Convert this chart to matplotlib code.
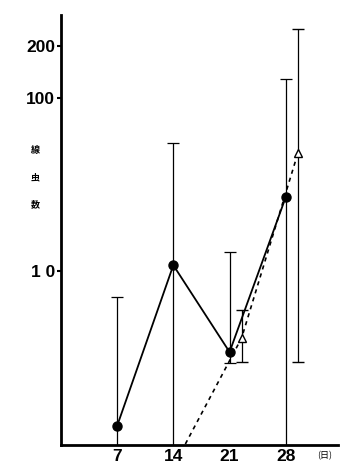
import matplotlib.pyplot as plt
import numpy as np

# data (log y axis)
days = [7, 14, 21, 28]
count = [1.27, 10.8, 3.4, 26.8]
count_hi = [7.1, 55, 12.9, 129]
count_lo = [0.5, 0.5, 2.94, 0.5]   # 0.5 = below the axis

days2 = [15.5, 22.5, 29.5]
count2 = [1.0, 4.1, 48]
count2_hi = [1.0, 5.96, 251]
count2_lo = [1.0, 2.98, 2.98]

xticks = [7, 14, 21, 28]
yticks = [10, 100, 200]
ytick_labels = ['1 0', '100', '200']

fig = plt.figure(figsize=(3.6, 4.67), dpi=100)
ax = fig.add_axes([0.169, 0.047, 0.770, 0.921])

# solid line, filled circles
c = np.array(count)
ax.errorbar(days, count, yerr=[c - np.array(count_lo), np.array(count_hi) - c],
            fmt='-o', color='black', lw=1.3, ms=6.5, elinewidth=0.9,
            capsize=4, capthick=0.9)

# dashed line, open triangles (first point only starts the line)
c2 = np.array(count2)
ax.plot(days2, count2, linestyle=(0, (2.5, 2.5)), color='black', lw=1.2)
ax.errorbar(days2[1:], count2[1:],
            yerr=[c2[1:] - np.array(count2_lo[1:]), np.array(count2_hi[1:]) - c2[1:]],
            fmt='^', mfc='white', mec='black', color='black', ms=6, mew=1,
            elinewidth=0.9, capsize=4, capthick=0.9)

ax.set_yscale('log')
ax.set_ylim(0.986, 302)
ax.set_xlim(0, 34.5)

ax.set_yticks(yticks)
ax.set_yticklabels(ytick_labels)
ax.yaxis.set_minor_locator(plt.NullLocator())
ax.set_xticks(xticks)
ax.set_xticklabels([str(d) for d in xticks])

for lab in ax.get_xticklabels() + ax.get_yticklabels():
    lab.set_fontweight('bold')
    lab.set_fontsize(12.5)
    lab.set_family('Liberation Sans')

ax.tick_params(axis='y', direction='out', length=3, width=1.5, pad=1)
ax.tick_params(axis='x', length=0, pad=3)

for s in ['top', 'right']:
    ax.spines[s].set_visible(False)
for s in ['left', 'bottom']:
    ax.spines[s].set_linewidth(2)

# stacked y label
for i, ch in enumerate('線虫数'):
    fig.text(35 / 360, 1 - (150 + 27.5 * i) / 467, ch, family='Noto Sans CJK JP',
             fontsize=6.5, fontweight='bold', ha='center', va='center')

fig.text(325 / 360, 1 - 456 / 467, '(日)', family='Noto Sans CJK JP',
         fontsize=6.5, ha='center', va='center')

fig.savefig('out.png', dpi=100)
